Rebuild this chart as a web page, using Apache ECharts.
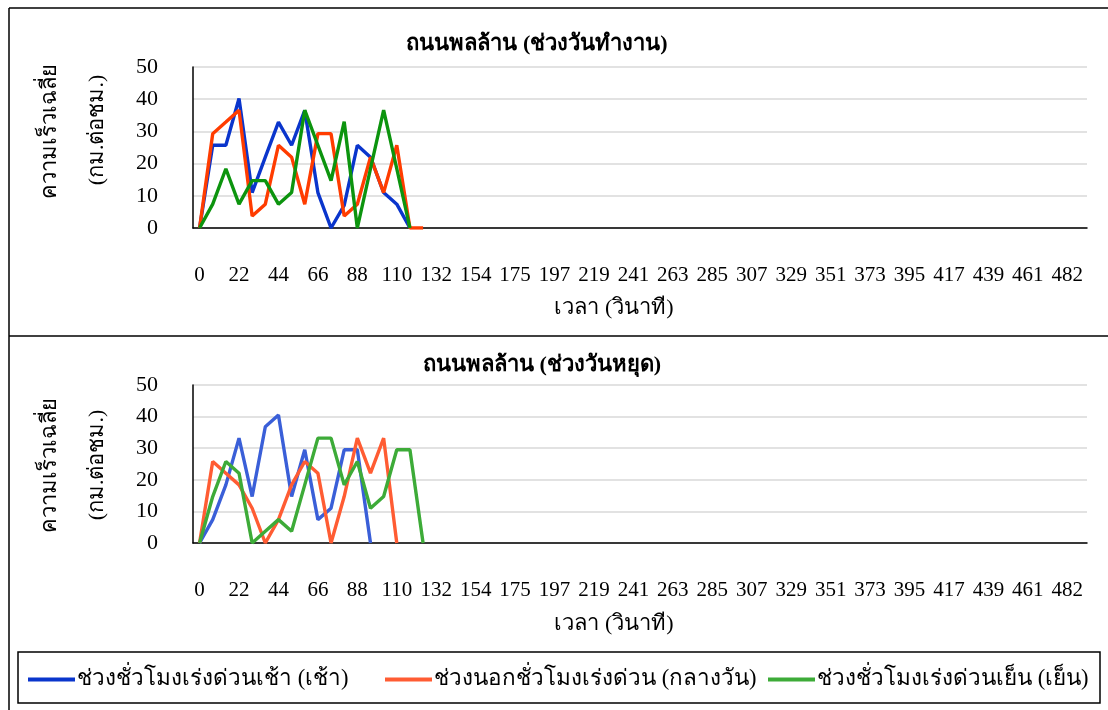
<!DOCTYPE html>
<html><head><meta charset="utf-8">
<script src="https://cdn.jsdelivr.net/npm/echarts@6/dist/echarts.min.js"></script>
<style>html,body{margin:0;padding:0;background:#fff}#c{width:1108px;height:710px}</style>
</head><body><div id="c"></div>
<script>
// time categories (seconds); every 3rd one is labelled
const times = [0,7,15,22,29,37,44,51,58,66,73,80,88,95,102,110,117,124,132,139,146,154,161,168,175,183,190,197,204,212,219,226,234,241,248,256,263,270,278,285,292,300,307,314,322,329,336,344,351,358,366,373,380,388,395,402,410,417,424,431,439,446,453,461,468,475,482,489];
const seriesNames = ['ช่วงชั่วโมงเร่งด่วนเช้า (เช้า)','ช่วงนอกชั่วโมงเร่งด่วน (กลางวัน)','ช่วงชั่วโมงเร่งด่วนเย็น (เย็น)'];
const titleTop = 'ถนนพลล้าน (ช่วงวันทำงาน)';
const titleBottom = 'ถนนพลล้าน (ช่วงวันหยุด)';
const yTitle1 = 'ความเร็วเฉลี่ย';
const yTitle2 = '(กม.ต่อชม.)';
const xTitle = 'เวลา (วินาที)';
// weekday (top panel)
const morningTop = [0,25.7,25.7,40.2,11,22,32.9,25.7,36.5,11,0,7,25.7,22,11,7.4,0];
const middayTop  = [0,29.3,32.9,36.6,3.7,7.4,25.7,22,7.4,29.3,29.3,3.7,7.4,22,11,25.7,0,0];
const eveningTop = [0,7.4,18.4,7.4,14.7,14.7,7.4,11,36.6,25.7,14.7,33,0,18.4,36.6,18.4,0];
// holiday (bottom panel)
const morningBot = [0,7.4,18.4,33.2,14.7,36.8,40.5,14.7,29.5,7.4,11,29.5,29.5,0];
const middayBot  = [0,25.8,22.1,18.4,11,0,7.4,18.4,25.8,22.1,0,14.7,33.2,22.1,33.2,0];
const eveningBot = [0,14.7,25.8,22.1,0,3.7,7.4,3.7,18.4,33.2,33.2,18.4,25.8,11,14.7,29.5,29.5,0];

const SERIF = "'Liberation Serif','DejaVu Serif',serif";
const colorsTop = ['#0a35cc','#ff3c00','#0c940e'];
const colorsBot = ['#3a5fd8','#ff5c33','#3dab38'];
const legendColors = ['#0a35cc','#ff5c33','#3dab38'];
const legendLefts = [28, 385, 768];

const chart = echarts.init(document.getElementById('c'), null, {renderer:'canvas'});

function xAxis(gi){
  return {type:'category', gridIndex:gi, data:times, boundaryGap:true,
    axisLine:{lineStyle:{color:'#000',width:1.5}}, axisTick:{show:false},
    axisLabel:{interval:2, color:'#000', fontFamily:SERIF, fontSize:21, margin:37}};
}
function yAxis(gi){
  return {type:'value', gridIndex:gi, min:0, max:50, interval:10,
    axisLine:{show:true, lineStyle:{color:'#000',width:1.5}}, axisTick:{show:false},
    splitLine:{lineStyle:{color:'#d9d9d9',width:1.5}},
    axisLabel:{color:'#000', fontFamily:SERIF, fontSize:22, margin:35}};
}
function line(name, data, gi, color){
  return {name:name, type:'line', xAxisIndex:gi, yAxisIndex:gi, data:data,
    showSymbol:false, symbol:'none', lineStyle:{color:color,width:3.4}, itemStyle:{color:color}, z:3};
}
function txt(x,y,t,opts,rot){
  const g = {type:'text', x:x, y:y, style:Object.assign({text:t, fill:'#000', font:'22px '+SERIF, textAlign:'center', textVerticalAlign:'middle'}, opts||{})};
  if(rot) g.rotation = rot;
  return g;
}

chart.setOption({
  animation:false,
  grid:[{left:193, right:21, top:67, height:161},{left:193, right:21, top:385, height:158}],
  xAxis:[xAxis(0), xAxis(1)],
  yAxis:[yAxis(0), yAxis(1)],
  legend:seriesNames.map((n,i)=>({left:legendLefts[i], top:668, padding:0, itemWidth:47, itemHeight:4, icon:'rect',
    textStyle:{fontFamily:SERIF, fontSize:22.5, color:'#000', padding:[0,0,0,-3]},
    data:[{name:n, itemStyle:{color:legendColors[i]}}]})),
  series:[
    line(seriesNames[0], morningTop, 0, colorsTop[0]),
    line(seriesNames[1], middayTop, 0, colorsTop[1]),
    line(seriesNames[2], eveningTop, 0, colorsTop[2]),
    line(seriesNames[0], morningBot, 1, colorsBot[0]),
    line(seriesNames[1], middayBot, 1, colorsBot[1]),
    line(seriesNames[2], eveningBot, 1, colorsBot[2])
  ],
  graphic:[
    {type:'line', shape:{x1:9,y1:8,x2:1108,y2:8}, style:{stroke:'#000',lineWidth:1.5}},
    {type:'line', shape:{x1:9,y1:8,x2:9,y2:710}, style:{stroke:'#000',lineWidth:1.5}},
    {type:'line', shape:{x1:9,y1:336,x2:1108,y2:336}, style:{stroke:'#000',lineWidth:1.5}},
    {type:'rect', shape:{x:18,y:652,width:1082,height:51}, style:{fill:'none',stroke:'#000',lineWidth:1.5}},
    txt(537,44,titleTop,{font:'bold 22px '+SERIF}),
    txt(542,365,titleBottom,{font:'bold 22px '+SERIF}),
    txt(614,308,xTitle),
    txt(614,624,xTitle),
    txt(50,131,yTitle1,{},Math.PI/2),
    txt(97,130,yTitle2,{},Math.PI/2),
    txt(50,465,yTitle1,{},Math.PI/2),
    txt(97,465,yTitle2,{},Math.PI/2)
  ]
});
</script></body></html>
